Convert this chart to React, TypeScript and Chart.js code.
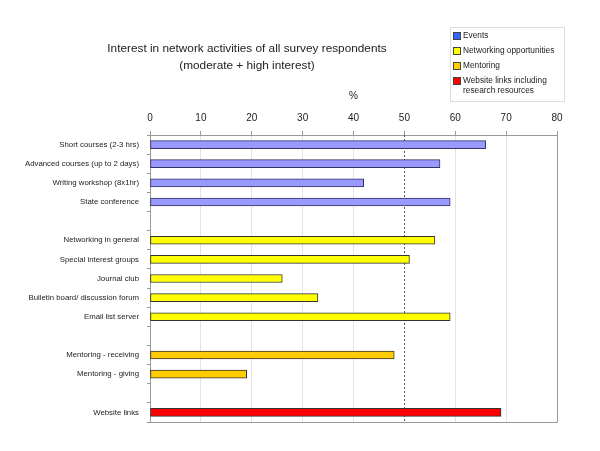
import React, { useEffect, useRef } from "react";
import { Chart, registerables } from "chart.js";

Chart.register(...registerables);

const categories = [
  "Short courses (2-3 hrs)",
  "Advanced courses (up to 2 days)",
  "Writing workshop (8x1hr)",
  "State conference",
  "",
  "Networking in general",
  "Special interest groups",
  "Journal club",
  "Bulletin board/ discussion forum",
  "Email list server",
  "",
  "Mentoring - receiving",
  "Mentoring - giving",
  "",
  "Website links",
];

const eventsValues = [66, 57, 42, 59];
const eventsIdx = [0, 1, 2, 3];
const networkingValues = [56, 51, 26, 33, 59];
const networkingIdx = [5, 6, 7, 8, 9];
const mentoringValues = [48, 19];
const mentoringIdx = [11, 12];
const websiteValues = [69];
const websiteIdx = [14];

const xTicks = [0, 10, 20, 30, 40, 50, 60, 70, 80];

const seriesNames = ["Events", "Networking opportunities", "Mentoring", "Website links including research resources"];
const legendLines = [["Events"], ["Networking opportunities"], ["Mentoring"], ["Website links including", "research resources"]];
const barColors = ["#9999ff", "#ffff00", "#ffcc00", "#ff0000"];
const borderColors = ["#333366", "#333333", "#333333", "#333333"];
const swatchColors = ["#3366ff", "#ffff00", "#ffcc00", "#ff0000"];

function spread(values: number[], idx: number[]) {
  const arr: (number | null)[] = categories.map(() => null);
  idx.forEach((i, k) => (arr[i] = values[k]));
  return arr;
}

const FONT = "'Liberation Sans', Arial, sans-serif";

const framePlugin = {
  id: "frame",
  beforeDatasetsDraw(chart: any) {
    const { ctx, chartArea } = chart;
    const x = chart.scales.x;
    ctx.save();
    ctx.strokeStyle = "#555555";
    ctx.lineWidth = 1;
    ctx.setLineDash([2, 2]);
    const px = Math.round(x.getPixelForValue(50)) + 0.5;
    ctx.beginPath();
    ctx.moveTo(px, chartArea.top);
    ctx.lineTo(px, chartArea.bottom);
    ctx.stroke();
    ctx.setLineDash([]);
    ctx.strokeStyle = "#999999";
    ctx.beginPath();
    const r = Math.round(chartArea.right) + 0.5;
    const b = Math.round(chartArea.bottom) + 0.5;
    ctx.moveTo(Math.round(chartArea.left), b);
    ctx.lineTo(r, b);
    ctx.lineTo(r, Math.round(chartArea.top));
    ctx.stroke();
    ctx.restore();
  },
};

export default function App() {
  const ref = useRef<HTMLCanvasElement | null>(null);
  useEffect(() => {
    if (!ref.current) return;
    const groups = [
      spread(eventsValues, eventsIdx),
      spread(networkingValues, networkingIdx),
      spread(mentoringValues, mentoringIdx),
      spread(websiteValues, websiteIdx),
    ];
    const chart = new Chart(ref.current, {
      type: "bar",
      data: {
        labels: categories,
        datasets: groups.map((d, i) => ({
          label: seriesNames[i],
          data: d,
          backgroundColor: barColors[i],
          borderColor: borderColors[i],
          borderWidth: 1,
          borderSkipped: false,
          barThickness: 8,
          grouped: false,
        })) as any,
      },
      options: {
        indexAxis: "y",
        animation: false,
        responsive: false,
        layout: { padding: { left: 0, right: 43, top: 90, bottom: 29 } },
        plugins: { legend: { display: false }, tooltip: { enabled: false }, title: { display: false } },
        scales: {
          x: {
            position: "top",
            min: 0,
            max: 80,
            afterBuildTicks: (s: any) => {
              s.ticks = xTicks.map((v) => ({ value: v }));
            },
            afterFit: (s: any) => {
              s.height = 45;
            },
            ticks: { font: { family: FONT, size: 10 }, color: "#222222", padding: 7 },
            title: { display: true, text: "%", font: { family: FONT, size: 10 }, color: "#222222", padding: { top: 0, bottom: 0 } },
            grid: {
              color: (c: any) => (c.tick && (c.tick.value === 0 || c.tick.value === 50 || c.tick.value === 80) ? "rgba(0,0,0,0)" : "#e3e3e3"),
              tickColor: "#999999",
              tickLength: 4,
            },
            border: { display: true, color: "#999999" },
          },
          y: {
            afterFit: (s: any) => {
              s.width = 150;
            },
            ticks: { font: { family: FONT, size: 7.8 }, color: "#222222", padding: 8, autoSkip: false },
            grid: { drawOnChartArea: false, tickColor: "#999999", tickLength: 3, offset: true },
            border: { display: true, color: "#999999" },
          },
        },
      },
      plugins: [framePlugin],
    });
    return () => chart.destroy();
  }, []);

  const itemTops = [30, 45, 60, 75];

  return (
    <div style={{ position: "absolute", left: 0, top: 0, width: 600, height: 451, background: "#fff", fontFamily: FONT }}>
      <canvas ref={ref} width={600} height={451} style={{ width: 600, height: 451, display: "block" }} />
      <div
        style={{
          position: "absolute",
          left: 40,
          width: 414,
          top: 40,
          textAlign: "center",
          fontSize: 11.8,
          lineHeight: "17px",
          color: "#222",
          whiteSpace: "nowrap",
        }}
      >
        Interest in network activities of all survey respondents
        <br />
        (moderate + high interest)
      </div>
      <div
        style={{
          position: "absolute",
          left: 450,
          top: 27,
          width: 115,
          height: 75,
          border: "1px solid #dddddd",
          boxSizing: "border-box",
        }}
      />
      {legendLines.map((lines, i) => (
        <React.Fragment key={i}>
          <span
            style={{
              position: "absolute",
              left: 453,
              top: itemTops[i] + 2,
              width: 6,
              height: 6,
              background: swatchColors[i],
              border: "1px solid #444",
            }}
          />
          <div
            style={{
              position: "absolute",
              left: 463,
              top: itemTops[i],
              fontSize: 8.3,
              lineHeight: "10px",
              color: "#222",
              whiteSpace: "nowrap",
            }}
          >
            {lines.map((l, k) => (
              <div key={k}>{l}</div>
            ))}
          </div>
        </React.Fragment>
      ))}
    </div>
  );
}
